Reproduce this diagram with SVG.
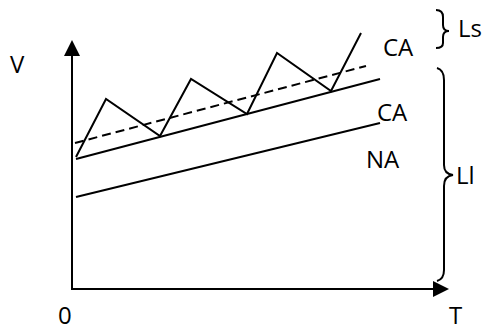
<svg xmlns="http://www.w3.org/2000/svg" width="496" height="331" viewBox="0 0 496 331">
<style>
.ln{stroke:#000;stroke-width:2;fill:none}
.br{stroke:#000;stroke-width:2;fill:none}
.t{font-family:"Open Sans","Noto Sans",sans-serif;font-size:24px;fill:#000}
</style>
<rect width="496" height="331" fill="#fff"/>
<g id="axes">
<line class="ln" x1="72" y1="290" x2="72" y2="52"/>
<polygon points="72,40 64,56 80,56" fill="#000"/>
<line class="ln" x1="71" y1="289" x2="436" y2="289"/>
<polygon points="449,289 433,281 433,297" fill="#000"/>
</g>
<g id="connectors">
<line class="ln" x1="76" y1="159" x2="380" y2="79"/>
<line class="ln" x1="75" y1="143" x2="366" y2="66" stroke-dasharray="9,5"/>
<line class="ln" x1="76" y1="197" x2="380" y2="123"/>
<polyline class="ln" points="76,157 106,99 160,136 191,79 247,114 277,53 331,91 361,33"/>
</g>
<g id="braces">
<path class="br" d="M436,10 Q443,10 443,17 L443,25 Q443,31 449,31 Q443,31 443,37 L443,43 Q443,48 436,48"/>
<path class="br" d="M437,68 Q444,70 444,80 L444,165 Q444,174 453,175 Q444,176 444,186 L444,270 Q444,279 437,281"/>
</g>
<g id="labels">
<text class="t" x="10" y="73">V</text>
<text class="t" x="58" y="324">0</text>
<text class="t" x="449" y="324">T</text>
<text class="t" x="383" y="56">CA</text>
<text class="t" x="458" y="37">Ls</text>
<text class="t" x="377" y="121">CA</text>
<text class="t" x="366" y="168">NA</text>
<text class="t" x="456" y="184">Ll</text>
</g>
</svg>
